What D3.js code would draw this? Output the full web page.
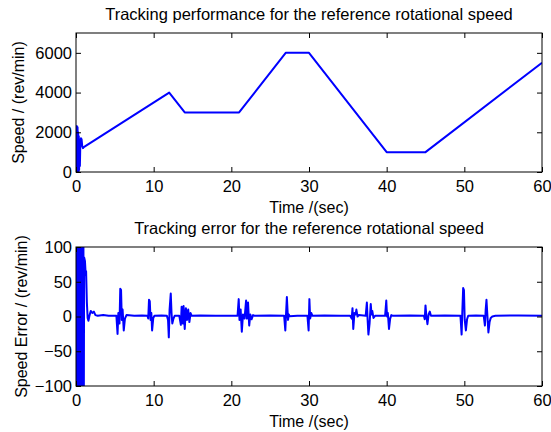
<html>
<head>
<meta charset="utf-8">
<script src="https://d3js.org/d3.v7.min.js"></script>
<style>
  body { margin: 0; background: #fff; }
  text { font-family: "Liberation Sans", Arial, sans-serif; fill: #000; }
</style>
</head>
<body>
<div id="chart"></div>
<script>

// ---- data ----
var xTicks = [0, 10, 20, 30, 40, 50, 60];
var speedTicks = [0, 2000, 4000, 6000];
var errorTicks = [-100, -50, 0, 50, 100];

// measured speed (rev/min) against time (sec)
var speedTime = [0, 0.04, 0.08, 0.12, 0.16, 0.2, 0.24, 0.28, 0.32, 0.36, 0.4, 0.44, 0.5, 0.56, 0.64, 0.72, 0.8, 0.9, 1.0,
                 12, 14, 21, 27, 30, 40, 45, 60];
var speedValue = [0, 2300, 0, 2300, 0, 2250, 0, 2000, 0, 1800, 100, 1600, 300, 1500, 1700, 1650, 1300, 1200, 1250,
                  4000, 3000, 3000, 6000, 6000, 1000, 1000, 5500];

// tracking error (rev/min) against time (sec)
var errorTime = [0, 0.04, 0.08, 0.12, 0.16, 0.2, 0.26, 0.32, 0.38, 0.46, 0.54, 0.62, 0.7, 0.78, 0.86, 0.94, 1.0,
  1.05, 1.15, 1.25, 1.3, 1.4, 1.5, 1.6, 1.75, 1.9, 2.1, 2.3, 2.5, 2.8, 3.5, 4.2, 5.2,
  5.35, 5.45, 5.6, 5.7, 5.8, 5.9, 6.0, 6.15, 6.3, 6.5, 7.5, 8.5, 9.2,
  9.3, 9.4, 9.5, 9.6, 9.7, 9.8, 9.95, 10.1, 11, 11.7,
  11.85, 11.95, 12.05, 12.2, 12.3, 12.4, 12.55, 12.7, 13.3,
  13.5, 13.6, 13.75, 13.85, 14.0, 14.15, 14.3, 14.45, 14.6, 14.75, 14.9, 16, 18, 20.8,
  20.95, 21.05, 21.2, 21.35, 21.5, 21.7, 21.9, 22.0, 22.15, 22.3, 22.45, 22.6, 22.8, 23, 25, 26.8,
  26.95, 27.05, 27.15, 27.3, 27.4, 27.5, 28.5, 29.8,
  29.95, 30.05, 30.15, 30.3, 30.45, 32, 34, 35.3,
  35.5, 35.6, 35.7, 35.85, 36.0, 36.1, 36.25, 36.4, 37.3,
  37.45, 37.55, 37.65, 37.8, 37.95, 38.05, 38.15, 38.3, 38.5, 39.8,
  39.95, 40.05, 40.15, 40.3, 40.45, 40.6, 40.8, 43, 44.8,
  44.9, 45.0, 45.1, 45.25, 45.4, 45.55, 45.7, 47.5, 49.5,
  49.65, 49.75, 49.85, 49.95, 50.05, 50.2, 50.35, 50.5, 51.5, 52.5,
  52.65, 52.75, 52.85, 52.95, 53.1, 53.25, 53.4, 53.6, 54, 57, 60];
var errorValue = [0, 400, -400, 400, -400, 400, -400, 400, -400, 400, -400, 300, -300, 250, -250, 200, -150,
  85, 80, 60, 65, 20, -2, -6, 2, 8, 5, 7, 2, 1, 2, 1, 1,
  -25, 5, -10, 40, 38, -5, 10, -20, -3, 2, 1, 1.5, 1,
  -3, 24, 22, -5, 5, -20, -2, 1, 1.5, 1,
  -5, -30, 10, 33, 5, -10, -3, 1, 1,
  -12, 14, -10, 15, -18, 12, -5, 10, -8, 5, 1, 1.5, 1, 1,
  25, -5, 10, -22, 3, -3, 23, -3, 20, -13, 3, -4, 2, 1, 1.5, 1,
  -20, 5, 28, -5, 3, 0.5, 1, 1,
  -20, 25, -3, 5, 1, 1.5, 1, 1,
  -3, 12, -18, 5, 3, 10, 0, 2, 1,
  20, -5, -26, -10, 18, 3, 8, -2, 1, 1,
  23, 0, 5, -18, -3, 2, 1, 1.5, 1,
  -4, 16, 2, -11, 3, 7, 1, 1.5, 1,
  -26, 10, 41, 38, -5, -20, -4, 1, 1.5, 1,
  -13, 10, 24, 5, -23, -8, -2, 0, 1, 1.5, 1];

var speedData = speedTime.map(function(t, i) { return [t, speedValue[i]]; });
var errorData = errorTime.map(function(t, i) { return [t, errorValue[i]]; });

var width = 551, height = 432;
var left = 76, right = 542;

var svg = d3.select("#chart")
  .append("svg")
    .attr("width", width)
    .attr("height", height);

svg.append("rect").attr("width", width).attr("height", height).attr("fill", "#fff");

function drawPanel(id, top, bottom, yDomain, yTicks, data, title, yLabel, yLabelX) {
  var x = d3.scaleLinear().domain([0, 60]).range([left, right]);
  var y = d3.scaleLinear().domain(yDomain).range([bottom, top]);

  var g = svg.append("g");

  // title
  g.append("text")
    .attr("x", (left + right) / 2)
    .attr("y", top - 13)
    .attr("text-anchor", "middle")
    .style("font-size", "16.5px")
    .text(title);

  // clip so the big start-up error is cut at the box
  svg.append("clipPath").attr("id", id)
    .append("rect")
      .attr("x", left).attr("y", top)
      .attr("width", right - left).attr("height", bottom - top);

  // line
  g.append("path")
    .datum(data)
    .attr("clip-path", "url(#" + id + ")")
    .attr("fill", "none")
    .attr("stroke", "#0000ff")
    .attr("stroke-width", 2)
    .attr("stroke-linejoin", "round")
    .attr("d", d3.line()
      .x(function(d) { return x(d[0]); })
      .y(function(d) { return y(d[1]); }));

  // axes, ticks pointing inward like matlab
  var bx = g.append("g")
    .attr("transform", "translate(0," + bottom + ")")
    .call(d3.axisBottom(x).tickValues(xTicks).tickSizeInner(-5).tickSizeOuter(0).tickPadding(8).tickFormat(d3.format("d")));
  var tx = g.append("g")
    .attr("transform", "translate(0," + top + ")")
    .call(d3.axisTop(x).tickValues(xTicks).tickSizeInner(-5).tickSizeOuter(0).tickFormat(""));
  var ly = g.append("g")
    .attr("transform", "translate(" + left + ",0)")
    .call(d3.axisLeft(y).tickValues(yTicks).tickSizeInner(-5).tickSizeOuter(0).tickPadding(4).tickFormat(d3.format("d")));
  var ry = g.append("g")
    .attr("transform", "translate(" + right + ",0)")
    .call(d3.axisRight(y).tickValues(yTicks).tickSizeInner(-5).tickSizeOuter(0).tickFormat(""));

  [bx, tx, ly, ry].forEach(function(a) {
    a.select(".domain").remove();
    a.selectAll("line").attr("stroke", "#000");
    a.selectAll("text")
      .style("font-family", "'Liberation Sans', Arial, sans-serif")
      .style("font-size", "16.5px")
      .attr("fill", "#000");
  });

  // box
  g.append("rect")
    .attr("x", left).attr("y", top)
    .attr("width", right - left).attr("height", bottom - top)
    .attr("fill", "none")
    .attr("stroke", "#000")
    .attr("stroke-width", 1);

  // axis labels
  g.append("text")
    .attr("x", (left + right) / 2)
    .attr("y", bottom + 41)
    .attr("text-anchor", "middle")
    .style("font-size", "16px")
    .text("Time /(sec)");

  g.append("text")
    .attr("transform", "translate(" + yLabelX + "," + ((top + bottom) / 2) + ")rotate(-90)")
    .attr("text-anchor", "middle")
    .style("font-size", "16px")
    .text(yLabel);
}

drawPanel("clipTop", 33, 172, [0, 7000], speedTicks, speedData,
  "Tracking performance for the reference rotational speed", "Speed / (rev/min)", 24);

drawPanel("clipBottom", 247, 386, [-100, 100], errorTicks, errorData,
  "Tracking error for the reference rotational speed", "Speed Error / (rev/min)", 27);

</script>
</body>
</html>
